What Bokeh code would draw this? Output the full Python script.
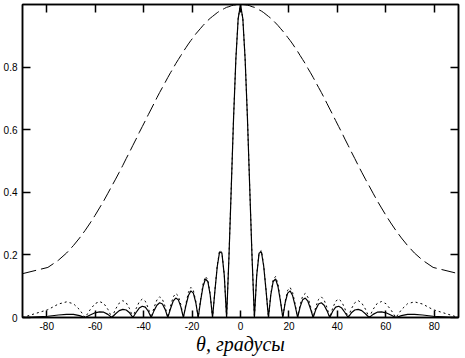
from bokeh.plotting import figure
from bokeh.models import Range1d, LinearAxis, FixedTicker
from bokeh.embed import file_html
from bokeh.resources import INLINE

# angle, degrees
theta = [-90.0, -79.52, -75.17, -71.81, -68.96, -66.44, -64.16, -62.06, -60.07, -58.21,
         -56.44, -54.74, -53.13, -51.57, -50.06, -48.59, -47.17, -45.78, -44.43, -43.11,
         -41.81, -40.54, -39.29, -38.07, -36.87, -35.69, -34.52, -33.37, -32.23, -31.11,
         -30.00, -28.90, -27.82, -26.74, -25.68, -24.62, -23.58, -22.54, -21.51, -20.49,
         -19.47, -18.46, -17.46, -16.46, -15.47, -14.48, -13.49, -12.51, -11.54, -10.56,
         -9.59, -8.63, -7.66, -6.70, -5.74, -4.78, -3.82, -2.87, -1.91, -0.96,
         0.0,
         0.96, 1.91, 2.87, 3.82, 4.78, 5.74, 6.70, 7.66, 8.63, 9.59,
         10.56, 11.54, 12.51, 13.49, 14.48, 15.47, 16.46, 17.46, 18.46, 19.47,
         20.49, 21.51, 22.54, 23.58, 24.62, 25.68, 26.74, 27.82, 28.90, 30.00,
         31.11, 32.23, 33.37, 34.52, 35.69, 36.87, 38.07, 39.29, 40.54, 41.81,
         43.11, 44.43, 45.78, 47.17, 48.59, 50.06, 51.57, 53.13, 54.74, 56.44,
         58.21, 60.07, 62.06, 64.16, 66.44, 68.96, 71.81, 75.17, 79.52, 90.0]

# dotted curve (array factor)
array_factor = [0.0, 0.025, 0.043, 0.050, 0.044, 0.025, 0.0, 0.025, 0.044, 0.051,
                0.045, 0.026, 0.0, 0.027, 0.046, 0.054, 0.047, 0.028, 0.0, 0.028,
                0.050, 0.059, 0.052, 0.030, 0.0, 0.032, 0.056, 0.066, 0.058, 0.035,
                0.0, 0.036, 0.065, 0.077, 0.069, 0.041, 0.0, 0.044, 0.080, 0.096,
                0.087, 0.052, 0.0, 0.058, 0.107, 0.131, 0.121, 0.075, 0.0, 0.088,
                0.167, 0.214, 0.208, 0.137, 0.0, 0.192, 0.414, 0.637, 0.827, 0.955,
                1.0,
                0.955, 0.827, 0.637, 0.414, 0.192, 0.0, 0.137, 0.208, 0.214, 0.167,
                0.088, 0.0, 0.075, 0.121, 0.131, 0.107, 0.058, 0.0, 0.052, 0.087,
                0.096, 0.080, 0.044, 0.0, 0.041, 0.069, 0.077, 0.065, 0.036, 0.0,
                0.035, 0.058, 0.066, 0.056, 0.032, 0.0, 0.030, 0.052, 0.059, 0.050,
                0.028, 0.0, 0.028, 0.047, 0.054, 0.046, 0.027, 0.0, 0.026, 0.045,
                0.051, 0.044, 0.025, 0.0, 0.025, 0.044, 0.050, 0.043, 0.025, 0.0]

# solid curve (total pattern)
pattern = [0.0, 0.004, 0.008, 0.010, 0.010, 0.006, 0.0, 0.008, 0.015, 0.018,
           0.017, 0.010, 0.0, 0.012, 0.022, 0.026, 0.024, 0.015, 0.0, 0.016,
           0.030, 0.036, 0.033, 0.020, 0.0, 0.022, 0.039, 0.047, 0.043, 0.026,
           0.0, 0.028, 0.052, 0.062, 0.057, 0.034, 0.0, 0.038, 0.070, 0.085,
           0.078, 0.048, 0.0, 0.054, 0.099, 0.123, 0.115, 0.072, 0.0, 0.085,
           0.163, 0.210, 0.205, 0.135, 0.0, 0.190, 0.412, 0.636, 0.826, 0.955,
           1.0,
           0.955, 0.826, 0.636, 0.412, 0.190, 0.0, 0.135, 0.205, 0.210, 0.163,
           0.085, 0.0, 0.072, 0.115, 0.123, 0.099, 0.054, 0.0, 0.048, 0.078,
           0.085, 0.070, 0.038, 0.0, 0.034, 0.057, 0.062, 0.052, 0.028, 0.0,
           0.026, 0.043, 0.047, 0.039, 0.022, 0.0, 0.020, 0.033, 0.036, 0.030,
           0.016, 0.0, 0.015, 0.024, 0.026, 0.022, 0.012, 0.0, 0.010, 0.017,
           0.018, 0.015, 0.008, 0.0, 0.006, 0.010, 0.010, 0.008, 0.004, 0.0]

# dashed curve (element pattern)
element = [0.140, 0.160, 0.183, 0.206, 0.230, 0.254, 0.278, 0.302, 0.326, 0.350,
           0.373, 0.397, 0.420, 0.442, 0.464, 0.486, 0.508, 0.529, 0.550, 0.570,
           0.591, 0.610, 0.629, 0.648, 0.666, 0.684, 0.702, 0.719, 0.735, 0.751,
           0.767, 0.782, 0.796, 0.811, 0.824, 0.837, 0.850, 0.862, 0.874, 0.885,
           0.895, 0.906, 0.915, 0.924, 0.933, 0.941, 0.949, 0.956, 0.962, 0.968,
           0.974, 0.979, 0.983, 0.987, 0.991, 0.993, 0.996, 0.998, 0.999, 1.0,
           1.0,
           1.0, 0.999, 0.998, 0.996, 0.993, 0.991, 0.987, 0.983, 0.979, 0.974,
           0.968, 0.962, 0.956, 0.949, 0.941, 0.933, 0.924, 0.915, 0.906, 0.895,
           0.885, 0.874, 0.862, 0.850, 0.837, 0.824, 0.811, 0.796, 0.782, 0.767,
           0.751, 0.735, 0.719, 0.702, 0.684, 0.666, 0.648, 0.629, 0.610, 0.591,
           0.570, 0.550, 0.529, 0.508, 0.486, 0.464, 0.442, 0.420, 0.397, 0.373,
           0.350, 0.326, 0.302, 0.278, 0.254, 0.230, 0.206, 0.183, 0.160, 0.140]

x_ticks = [-80, -60, -40, -20, 0, 20, 40, 60, 80]
x_tick_labels = ["-80", "-60", "-40", "-20", "0", "20", "40", "60", "80"]
y_ticks = [0, 0.2, 0.4, 0.6, 0.8]
y_tick_labels = ["0", "0.2", "0.4", "0.6", "0.8"]
x_title = "θ, градусы"

p = figure(width=465, height=358, output_backend="svg", toolbar_location=None,
           x_range=Range1d(-90, 90), y_range=Range1d(0, 1.0),
           min_border_left=22, min_border_right=7, min_border_top=4, min_border_bottom=41)
p.grid.visible = False
p.outline_line_color = "black"
p.outline_line_width = 1.5
p.background_fill_color = "white"
p.border_fill_color = "white"

p.line(theta, element, line_color="black", line_width=1, line_dash="14 5")
p.line(theta, array_factor, line_color="black", line_width=1, line_dash="2 3")
p.line(theta, pattern, line_color="black", line_width=1.2)

def style_axis(ax, ticks, labels, tick_len, show_labels):
    ax.ticker = FixedTicker(ticks=ticks)
    ax.major_tick_in = tick_len
    ax.major_tick_out = 0
    ax.minor_tick_in = 0
    ax.minor_tick_out = 0
    ax.axis_line_color = "black"
    ax.axis_line_width = 1.5
    ax.major_tick_line_color = "black"
    ax.major_tick_line_width = 1.5
    if show_labels:
        ax.major_label_overrides = {t: l for t, l in zip(ticks, labels)}
        ax.major_label_text_font = "Liberation Sans"
        ax.major_label_text_font_size = "10px"
        ax.major_label_text_color = "black"
    else:
        ax.major_label_overrides = {t: "" for t in ticks}
        ax.major_label_standoff = 0

style_axis(p.xaxis[0], x_ticks, x_tick_labels, 7, True)
p.xaxis[0].major_label_standoff = 4
p.xaxis[0].axis_label = x_title
p.xaxis[0].axis_label_text_font = "Liberation Serif"
p.xaxis[0].axis_label_text_font_style = "italic"
p.xaxis[0].axis_label_text_font_size = "20px"
p.xaxis[0].axis_label_text_color = "black"
p.xaxis[0].axis_label_standoff = 0

style_axis(p.yaxis[0], y_ticks, y_tick_labels, 8, True)
p.yaxis[0].major_label_standoff = 5

top_axis = LinearAxis()
style_axis(top_axis, x_ticks, x_tick_labels, 8, False)
p.add_layout(top_axis, "above")

right_axis = LinearAxis()
style_axis(right_axis, y_ticks, y_tick_labels, 8, False)
p.add_layout(right_axis, "right")

open("out.html", "w").write(file_html(p, INLINE))
